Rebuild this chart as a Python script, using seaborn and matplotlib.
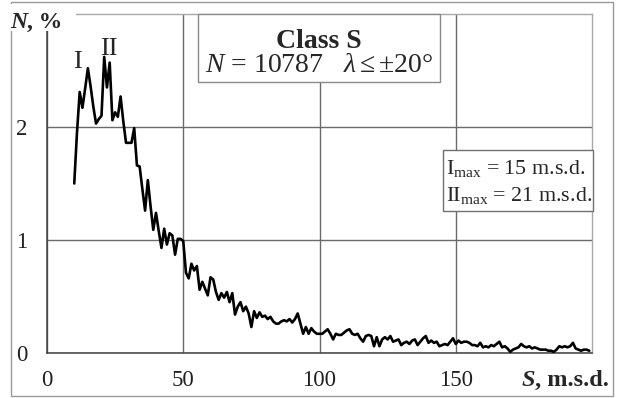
import numpy as np
import matplotlib
matplotlib.use("Agg")
import matplotlib.pyplot as plt
from matplotlib.patches import Rectangle
import seaborn as sns
import pandas as pd

# Distribution of S (m.s.d.) for class S events, step 1 m.s.d.
s_start, s_stop = 10, 200
n_percent = [
    1.50, 1.95, 2.31, 2.17, 2.34, 2.52, 2.36, 2.18, 2.03, 2.07,   # 10-19
    2.10, 2.62, 2.35, 2.57, 2.06, 2.13, 2.09, 2.27, 2.05, 1.86,   # 20-29
    1.86, 1.86, 1.99, 1.66, 1.65, 1.45, 1.26, 1.53, 1.30, 1.09,   # 30-39
    1.24, 1.08, 0.93, 1.10, 0.96, 1.06, 1.04, 0.87, 1.01, 1.01,   # 40-49
    0.99, 0.71, 0.66, 0.79, 0.73, 0.77, 0.56, 0.63, 0.57, 0.51,   # 50-59
    0.67, 0.65, 0.54, 0.47, 0.53, 0.49, 0.54, 0.45, 0.53, 0.34,   # 60-69
    0.41, 0.45, 0.37, 0.41, 0.35, 0.23, 0.37, 0.31, 0.36, 0.32,   # 70-79
    0.33, 0.30, 0.32, 0.28, 0.26, 0.26, 0.28, 0.29, 0.28, 0.30,   # 80-89
    0.27, 0.30, 0.35, 0.26, 0.17, 0.23, 0.17, 0.22, 0.19, 0.17,   # 90-99
    0.17, 0.17, 0.19, 0.21, 0.17, 0.12, 0.17, 0.16, 0.16, 0.18,   # 100-109
    0.20, 0.21, 0.17, 0.16, 0.17, 0.13, 0.10, 0.15, 0.16, 0.15,   # 110-119
    0.06, 0.14, 0.06, 0.12, 0.14, 0.12, 0.15, 0.10, 0.11, 0.12,   # 120-129
    0.07, 0.09, 0.10, 0.08, 0.11, 0.12, 0.07, 0.10, 0.13, 0.15,   # 130-139
    0.09, 0.11, 0.09, 0.10, 0.06, 0.07, 0.08, 0.07, 0.10, 0.13,   # 140-149
    0.08, 0.11, 0.09, 0.10, 0.10, 0.09, 0.07, 0.07, 0.06, 0.09,   # 150-159
    0.05, 0.06, 0.05, 0.07, 0.06, 0.08, 0.10, 0.05, 0.06, 0.04,   # 160-169
    0.01, 0.03, 0.04, 0.05, 0.08, 0.06, 0.05, 0.06, 0.04, 0.05,   # 170-179
    0.04, 0.03, 0.03, 0.03, 0.02, 0.02, 0.01, 0.03, 0.06, 0.05,   # 180-189
    0.06, 0.05, 0.06, 0.09, 0.04, 0.03, 0.02, 0.03, 0.03, 0.02,   # 190-199
]
s_values = np.arange(s_start, s_stop)

x_ticks = [0, 50, 100, 150]
y_ticks = [0, 1, 2]
title_line1 = "Class S"
title_line2 = r"$N$ = 10787   $\lambda\leq$±20°"
peak_lines = [r"I$_{\mathrm{max}}$ = 15 m.s.d.", r"II$_{\mathrm{max}}$ = 21 m.s.d."]
peak_names = ["I", "II"]
peak_s = [15, 21]

df = pd.DataFrame({"S": s_values, "N": n_percent})

sns.set_style("white")
plt.rcParams["font.family"] = ["Liberation Serif", "DejaVu Serif"]
plt.rcParams["mathtext.fontset"] = "custom"
plt.rcParams["mathtext.rm"] = "Liberation Serif"
plt.rcParams["mathtext.it"] = "Liberation Serif:italic"
plt.rcParams["mathtext.bf"] = "Liberation Serif:bold"
plt.rcParams["mathtext.fallback"] = "stix"

W, H = 621, 398


def px(x, y):
    return x / W, 1 - y / H


fig = plt.figure(figsize=(W / 100, H / 100), dpi=100)
fig.patch.set_facecolor("white")
ax = fig.add_axes([47 / W, 1 - 353 / H, (592 - 47) / W, (353 - 14) / H])

sns.lineplot(data=df, x="S", y="N", ax=ax, color="black", lw=1.9, zorder=3)

ax.set_xlim(0, 200)
ax.set_ylim(0, 3)
ax.set_xticks(x_ticks)
ax.set_yticks(y_ticks)
ax.set_xticklabels([str(t) for t in x_ticks])
ax.set_yticklabels([str(t) for t in y_ticks])
ax.set_xlabel("")
ax.set_ylabel("")
ax.grid(True, color="#6a6a6a", lw=1.0)
ax.set_axisbelow(True)
for side in ("top", "right"):
    ax.spines[side].set_color("#a8a8a8")
    ax.spines[side].set_linewidth(1.0)
for side in ("left", "bottom"):
    ax.spines[side].set_color("#404040")
    ax.spines[side].set_linewidth(1.1)
ax.tick_params(axis="both", direction="out", length=6, width=1.0,
               color="#606060", labelsize=16.5, labelcolor="#202020")
ax.tick_params(axis="x", pad=6)
ax.tick_params(axis="y", pad=8)

# Peak markers next to the two maxima
peak_n = [n_percent[s - s_start] for s in peak_s]
peak_offsets = [(-4, 0), (3, 1.5)]
peak_align = ["right", "center"]
for name, s, n, off, ha in zip(peak_names, peak_s, peak_n, peak_offsets, peak_align):
    ax.annotate(name, xy=(s, n), xytext=off, textcoords="offset points",
                ha=ha, va="baseline", fontsize=19, zorder=5)

# Outer frame around the whole figure
fig.patches.append(Rectangle(px(11, 396), (613 - 11) / W, (396 - 2) / H,
                             transform=fig.transFigure, fill=False,
                             ec="#9a9a9a", lw=1.0))

# Axis captions: italic bold letter followed by bold units
fig.patches.append(Rectangle(px(8, 31), (76 - 8) / W, (31 - 4) / H,
                             transform=fig.transFigure, fc="white",
                             ec="none", zorder=4))
fig.text(*px(10, 28), "N", fontsize=17, fontweight="bold", style="italic",
         va="baseline", ha="left", zorder=5)
fig.text(*px(27, 28), ", %", fontsize=17, fontweight="bold",
         va="baseline", ha="left", zorder=5)

fig.text(*px(522, 386), "S", fontsize=17.5, fontweight="bold", style="italic",
         va="baseline", ha="left")
fig.text(*px(535, 386), ", m.s.d.", fontsize=17.5, fontweight="bold",
         va="baseline", ha="left")

# Title box
fig.patches.append(Rectangle(px(198, 82), (440 - 198) / W, (82 - 14) / H,
                             transform=fig.transFigure, fc="white",
                             ec="#8a8a8a", lw=1.0, zorder=4))
fig.text(*px(319, 42), title_line1, fontsize=20, fontweight="bold",
         ha="center", va="center", zorder=5)
fig.text(*px(319, 66), title_line2, fontsize=20,
         ha="center", va="center", zorder=5)

# Peak positions box
fig.patches.append(Rectangle(px(443, 211), (593 - 443) / W, (211 - 150) / H,
                             transform=fig.transFigure, fc="white",
                             ec="#707070", lw=1.0, zorder=4))
fig.text(*px(446, 174), peak_lines[0], fontsize=15.8, ha="left",
         va="baseline", zorder=5)
fig.text(*px(446, 201), peak_lines[1], fontsize=15.8, ha="left",
         va="baseline", zorder=5)

fig.savefig("out.png", dpi=100)
